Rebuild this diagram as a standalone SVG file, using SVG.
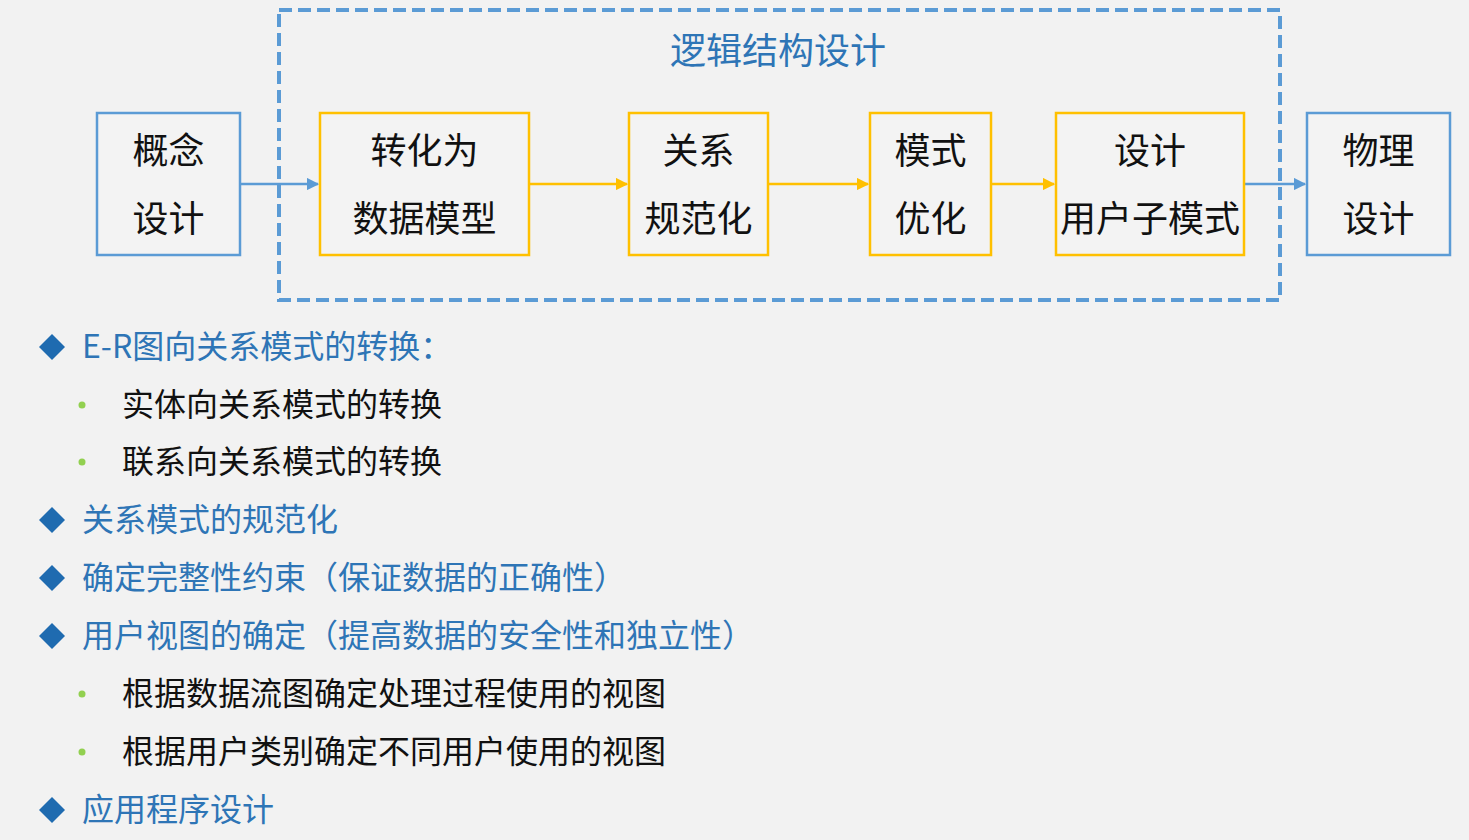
<svg xmlns="http://www.w3.org/2000/svg" width="1469" height="840" viewBox="0 0 1469 840">
<defs>
<marker id="ab" viewBox="0 0 10 10" refX="9" refY="5" markerWidth="5" markerHeight="5" orient="auto" markerUnits="strokeWidth"><path d="M0,0 L10,5 L0,10 z" fill="#5b9bd5"/></marker>
<marker id="ay" viewBox="0 0 10 10" refX="9" refY="5" markerWidth="5" markerHeight="5" orient="auto" markerUnits="strokeWidth"><path d="M0,0 L10,5 L0,10 z" fill="#ffc000"/></marker>
</defs>
<style>
text{font-family:"Noto Sans CJK SC","Noto Sans",sans-serif;dominant-baseline:central}
.bx{fill:#f3f3f3;stroke-width:2.5}
.bl{stroke:#5b9bd5}
.yl{stroke:#ffc000}
.bt{font-size:36px;fill:#111;text-anchor:middle}
.h{font-size:32px;fill:#2e75b6}
.s{font-size:32px;fill:#111}
.d{fill:#1f6bb0}
.g{fill:#92d050}
</style>
<rect width="1469" height="840" fill="#f2f2f2"/>
<g id="logic-group">
<rect x="279" y="10" width="1001" height="290" fill="none" stroke="#5b9bd5" stroke-width="4" stroke-dasharray="13,6"/>
<text x="778" y="48" font-size="36" fill="#2e75b6" text-anchor="middle">逻辑结构设计</text>
</g>
<g id="connectors">
<line x1="240" y1="184" x2="318" y2="184" stroke="#5b9bd5" stroke-width="2.5" marker-end="url(#ab)"/>
<line x1="529" y1="184" x2="627" y2="184" stroke="#ffc000" stroke-width="2.5" marker-end="url(#ay)"/>
<line x1="768" y1="184" x2="868" y2="184" stroke="#ffc000" stroke-width="2.5" marker-end="url(#ay)"/>
<line x1="991" y1="184" x2="1054" y2="184" stroke="#ffc000" stroke-width="2.5" marker-end="url(#ay)"/>
<line x1="1244" y1="184" x2="1305" y2="184" stroke="#5b9bd5" stroke-width="2.5" marker-end="url(#ab)"/>
</g>
<g id="n-concept"><rect class="bx bl" x="97" y="113" width="143" height="142"/><text class="bt" x="168.5" y="148">概念</text><text class="bt" x="168.5" y="216">设计</text></g>
<g id="n-convert"><rect class="bx yl" x="320" y="113" width="209" height="142"/><text class="bt" x="424.5" y="148">转化为</text><text class="bt" x="424.5" y="216">数据模型</text></g>
<g id="n-normalize"><rect class="bx yl" x="629" y="113" width="139" height="142"/><text class="bt" x="698.5" y="148">关系</text><text class="bt" x="698.5" y="216">规范化</text></g>
<g id="n-optimize"><rect class="bx yl" x="870" y="113" width="121" height="142"/><text class="bt" x="930.5" y="148">模式</text><text class="bt" x="930.5" y="216">优化</text></g>
<g id="n-subschema"><rect class="bx yl" x="1056" y="113" width="188" height="142"/><text class="bt" x="1150" y="148">设计</text><text class="bt" x="1150" y="216">用户子模式</text></g>
<g id="n-physical"><rect class="bx bl" x="1307" y="113" width="143" height="142"/><text class="bt" x="1378.5" y="148">物理</text><text class="bt" x="1378.5" y="216">设计</text></g>
<g id="bullets">
<path class="d" d="M52,334 L65,347 L52,360 L39,347 z"/><text class="h" x="82" y="344">E-R图向关系模式的转换：</text>
<circle class="g" cx="82" cy="405" r="3.5"/><text class="s" x="122" y="402">实体向关系模式的转换</text>
<circle class="g" cx="82" cy="462" r="3.5"/><text class="s" x="122" y="459">联系向关系模式的转换</text>
<path class="d" d="M52,507 L65,520 L52,533 L39,520 z"/><text class="h" x="82" y="517">关系模式的规范化</text>
<path class="d" d="M52,565 L65,578 L52,591 L39,578 z"/><text class="h" x="82" y="575">确定完整性约束（保证数据的正确性）</text>
<path class="d" d="M52,623 L65,636 L52,649 L39,636 z"/><text class="h" x="82" y="633">用户视图的确定（提高数据的安全性和独立性）</text>
<circle class="g" cx="82" cy="694" r="3.5"/><text class="s" x="122" y="691">根据数据流图确定处理过程使用的视图</text>
<circle class="g" cx="82" cy="752" r="3.5"/><text class="s" x="122" y="749">根据用户类别确定不同用户使用的视图</text>
<path class="d" d="M52,797 L65,810 L52,823 L39,810 z"/><text class="h" x="82" y="807">应用程序设计</text>
</g>
</svg>
